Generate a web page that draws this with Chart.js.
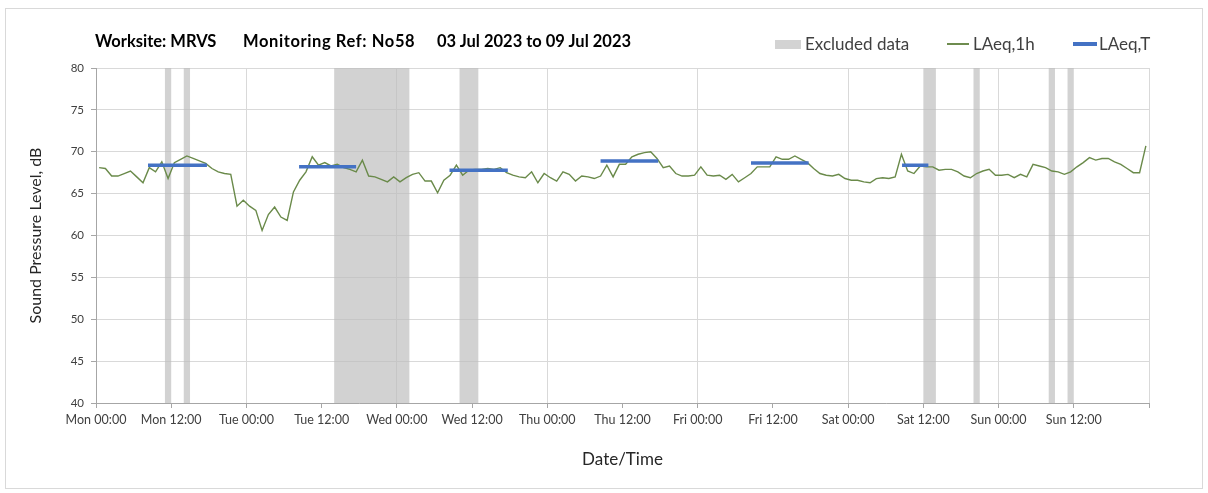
<!DOCTYPE html>
<html>
<head>
<meta charset="utf-8">
<script src="https://cdn.jsdelivr.net/npm/chart.js@4.4.0/dist/chart.umd.min.js"></script>
<style>
  html, body { margin: 0; padding: 0; background: #fff; }
  body { width: 1208px; height: 493px; position: relative; overflow: hidden; font-family: Lato, "Open Sans", sans-serif; }
  #frame { position: absolute; left: 5px; top: 8px; width: 1198px; height: 481px; border: 1px solid #d9d9d9; box-sizing: border-box; }
  #chart { position: absolute; left: 0; top: 0; }
  .title { position: absolute; top: 31px; line-height: 20px; font-weight: bold; font-size: 16.5px; color: #000; white-space: nowrap; }
  .legend { position: absolute; top: 34px; line-height: 20px; font-size: 17px; color: #404040; white-space: nowrap; }
  .swatch { position: absolute; }
</style>
</head>
<body>
<div id="frame"></div>
<canvas id="chart" width="1208" height="493"></canvas>
<div class="title" style="left:95px">Worksite: MRVS</div>
<div class="title" style="left:243px;letter-spacing:0.6px">Monitoring Ref: No58</div>
<div class="title" style="left:437px">03 Jul 2023 to 09 Jul 2023</div>
<div class="swatch" style="left:775px;top:40px;width:26px;height:9px;background:#d3d3d3"></div>
<div class="legend" style="left:805px">Excluded data</div>
<div class="swatch" style="left:947px;top:43px;width:22px;height:1.5px;background:#6e8c4f"></div>
<div class="legend" style="left:973px">LAeq,1h</div>
<div class="swatch" style="left:1073px;top:42px;width:24px;height:3.5px;background:#4472c4"></div>
<div class="legend" style="left:1099px">LAeq,T</div>
<script>
  // hourly LAeq,1h from Mon 00:00 (one value per hour, 168 hours)
  const hourLevels = [
    68.1, 68.0, 67.1, 67.1, 67.4, 67.7, 67.0, 66.3, 68.1, 67.6,
    68.8, 66.8, 68.7, 69.1, 69.5, 69.2, 68.9, 68.6, 68.0, 67.6,
    67.4, 67.3, 63.5, 64.2, 63.5, 63.0, 60.6, 62.5, 63.4, 62.2,
    61.8, 65.2, 66.6, 67.6, 69.4, 68.4, 68.7, 68.3, 68.5, 68.1,
    67.9, 67.6, 69.0, 67.1, 67.0, 66.7, 66.4, 67.0, 66.4, 66.9,
    67.3, 67.5, 66.5, 66.5, 65.1, 66.6, 67.2, 68.4, 67.2, 67.8,
    67.9, 67.9, 68.0, 67.9, 68.1, 67.5, 67.2, 67.0, 66.9, 67.6,
    66.3, 67.4, 66.9, 66.5, 67.6, 67.3, 66.5, 67.1, 67.0, 66.8,
    67.1, 68.4, 67.0, 68.5, 68.5, 69.4, 69.7, 69.9, 70.0, 69.2,
    68.1, 68.3, 67.4, 67.1, 67.1, 67.2, 68.2, 67.2, 67.1, 67.2,
    66.7, 67.3, 66.4, 66.9, 67.4, 68.2, 68.2, 68.2, 69.4, 69.1,
    69.1, 69.5, 69.1, 68.7, 68.0, 67.4, 67.2, 67.1, 67.3, 66.8,
    66.6, 66.6, 66.4, 66.3, 66.8, 66.9, 66.8, 67.0, 69.7, 67.7,
    67.4, 68.3, 68.2, 68.2, 67.8, 67.9, 67.9, 67.6, 67.1, 66.9,
    67.4, 67.7, 67.9, 67.2, 67.2, 67.3, 66.9, 67.3, 67.0, 68.5,
    68.3, 68.1, 67.7, 67.6, 67.3, 67.6, 68.2, 68.7, 69.3, 69.0,
    69.2, 69.2, 68.8, 68.5, 68.0, 67.5, 67.5, 70.7,
  ];

  // excluded periods, hours from Mon 00:00
  const excludedFrom = [11, 14, 38, 58, 132, 140, 152, 155];
  const excludedTo = [12, 15, 50, 61, 134, 141, 153, 156];

  // LAeq,T periods
  const periodFrom = [8.3, 32.4, 56.4, 80.5, 104.5, 128.6];
  const periodTo = [17.7, 41.5, 65.7, 89.7, 113.7, 132.8];
  const periodLevels = [68.4, 68.2, 67.8, 68.9, 68.65, 68.4];

  const tickLabels = [
    "Mon 00:00", "Mon 12:00", "Tue 00:00", "Tue 12:00", "Wed 00:00",
    "Wed 12:00", "Thu 00:00", "Thu 12:00", "Fri 00:00", "Fri 12:00",
    "Sat 00:00", "Sat 12:00", "Sun 00:00", "Sun 12:00", "",
  ];

  const colors = {
    green: "#6a8a4a",
    blue: "#4472c4",
    grid: "#d9d9d9",
    axis: "#a6a6a6",
    text: "#404040",
    band: "rgba(188, 188, 188, 0.68)",
  };

  const hourlyPoints = hourLevels.map((v, k) => ({ x: k + 0.5, y: v }));

  const periodPoints = [];
  periodFrom.forEach((from, i) => {
    periodPoints.push({ x: from, y: periodLevels[i] });
    periodPoints.push({ x: periodTo[i], y: periodLevels[i] });
    periodPoints.push({ x: periodTo[i] + 0.5, y: null });
  });

  const excludedBands = {
    id: "excludedBands",
    beforeDatasetsDraw(chart) {
      const { ctx, chartArea, scales } = chart;
      ctx.save();
      ctx.fillStyle = colors.band;
      excludedFrom.forEach((from, i) => {
        const left = scales.x.getPixelForValue(from);
        const right = scales.x.getPixelForValue(excludedTo[i]);
        ctx.fillRect(left, chartArea.top, right - left, chartArea.bottom - chartArea.top);
      });
      ctx.restore();
    },
  };

  new Chart(document.getElementById("chart"), {
    type: "line",
    data: {
      datasets: [
        {
          label: "LAeq,T",
          data: periodPoints,
          borderColor: colors.blue,
          borderWidth: 3.5,
          pointRadius: 0,
          spanGaps: false,
          order: 0,
        },
        {
          label: "LAeq,1h",
          data: hourlyPoints,
          borderColor: colors.green,
          borderWidth: 1.4,
          pointRadius: 0,
          tension: 0,
          order: 1,
        },
      ],
    },
    options: {
      responsive: false,
      devicePixelRatio: 1,
      animation: false,
      layout: { padding: { left: 20, right: 59, top: 68, bottom: 20 } },
      plugins: {
        legend: { display: false },
        tooltip: { enabled: false },
      },
      scales: {
        x: {
          type: "linear",
          min: 0,
          max: 168,
          afterFit: (scale) => { scale.height = 70; },
          ticks: {
            stepSize: 12,
            autoSkip: false,
            maxRotation: 0,
            padding: 4,
            color: colors.text,
            font: { family: "Lato", size: 12.5 },
            callback: (value) => tickLabels[value / 12] ?? "",
          },
          grid: {
            color: (context) => (context.tick && context.tick.value % 24 === 0 ? colors.grid : "rgba(0,0,0,0)"),
            tickColor: colors.axis,
            tickLength: 5,
          },
          border: { color: colors.axis },
          title: {
            display: true,
            text: "Date/Time",
            color: "#262626",
            font: { family: "Lato", size: 17 },
            padding: { top: 0, bottom: 3 },
          },
        },
        y: {
          min: 40,
          max: 80,
          afterFit: (scale) => { scale.width = 76; },
          ticks: {
            stepSize: 5,
            padding: 7,
            color: colors.text,
            font: { family: "Lato", size: 11.5 },
          },
          grid: {
            color: colors.grid,
            tickColor: colors.axis,
            tickLength: 5,
          },
          border: { color: colors.axis },
          title: {
            display: true,
            text: "Sound Pressure Level, dB",
            color: "#262626",
            font: { family: "Lato", size: 16 },
            padding: { top: 6, bottom: 0 },
          },
        },
      },
    },
    plugins: [excludedBands],
  });
</script>
</body>
</html>
